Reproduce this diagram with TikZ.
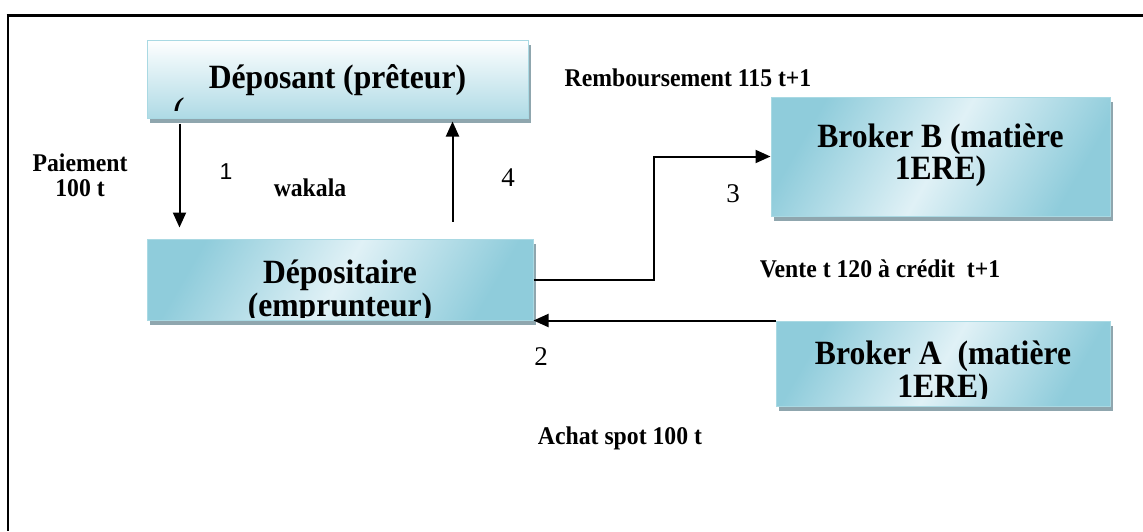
\documentclass[tikz,border=0pt]{standalone}
\usepackage{fontspec}
\setmainfont{Liberation Serif}
\newfontfamily\narrowserif[FakeStretch=0.93]{Liberation Serif}
\newfontfamily\plainsans{Liberation Sans}
\usetikzlibrary{arrows.meta,shadows,calc}

\definecolor{edgeblue}{HTML}{A9D9E3}
\definecolor{deepblue}{HTML}{8FCCDB}
\definecolor{paleblue}{HTML}{E0F1F6}
\definecolor{shadowgray}{HTML}{8FA6AE}

\tikzset{
  card/.style={draw=edgeblue, line width=1pt, inner sep=0pt,
    general shadow={fill=shadowgray, shadow xshift=3pt, shadow yshift=-5pt}},
  vcard/.style={card, top color=white!96!paleblue, bottom color=deepblue!72!white},
  dcard/.style={card, left color=deepblue, right color=deepblue,
    middle color=paleblue, shading angle=60},
  bigtxt/.style={font=\narrowserif\bfseries\fontsize{34}{33}\selectfont, inner sep=0pt, anchor=base},
  lbl/.style={font=\narrowserif\bfseries\fontsize{25.5}{25}\selectfont, align=center, inner sep=0pt},
  stepnum/.style={font=\fontsize{27}{27}\selectfont, inner sep=0pt},
  arr/.style={line width=2pt, -{Triangle[length=15pt,width=13pt]}},
}

\begin{document}
\begin{tikzpicture}[x=1pt,y=1pt]
\useasboundingbox (0,0) rectangle (1143,-531);

% page frame
\draw[line width=3pt] (6.5,-15) -- (1143,-15);
\draw[line width=1.2pt] (8,-15) -- (8,-531);

% boxes; each text is clipped to the inner area of its box
\node[vcard, minimum width=381pt, minimum height=78pt,
  path picture={
    \coordinate (depC) at (path picture bounding box.center);
    \clip ($(depC)+(-190,-31)$) rectangle ($(depC)+(190,39)$);
    \node[bigtxt] (depT) at ($(depC)+(0,-9)$) {Déposant (prêteur)};
    \node[font=\bfseries\itshape\fontsize{27}{27}\selectfont, inner sep=0pt, anchor=base] (depP)
      at ($(depC)+(-160,-37)$) {(};
  }] (dep) at (337.5,-79) {};

\node[dcard, minimum width=386pt, minimum height=81pt,
  path picture={
    \coordinate (dptC) at (path picture bounding box.center);
    \clip ($(dptC)+(-193,-37.5)$) rectangle ($(dptC)+(193,40.5)$);
    \node[bigtxt] (dptT) at ($(dptC)+(0,-3.5)$) {Dépositaire};
    \node[bigtxt] (dptU) at ($(dptC)+(0,-36.5)$) {(emprunteur)};
  }] (dpt) at (340,-279.5) {};

\node[dcard, minimum width=339pt, minimum height=119pt,
  path picture={
    \coordinate (bbC) at (path picture bounding box.center);
    \node[bigtxt] (bbT) at ($(bbC)+(0,9.5)$) {Broker B (matière};
    \node[bigtxt] (bbU) at ($(bbC)+(0,-22.5)$) {1ERE)};
  }] (bb) at (940.5,-156.5) {};

\node[dcard, minimum width=334pt, minimum height=85pt,
  path picture={
    \coordinate (baC) at (path picture bounding box.center);
    \clip ($(baC)+(-167,-34.5)$) rectangle ($(baC)+(167,42.5)$);
    \node[bigtxt] (baT) at ($(baC)+(0,-0.5)$) {Broker A\ \ (matière};
    \node[bigtxt] (baU) at ($(baC)+(0,-33.5)$) {1ERE)};
  }] (ba) at (943,-363.5) {};

% flows
\draw[arr] ($(dep.south west)+(33,-5)$) -- ($(dpt.north west)+(33,11)$);
\draw[arr] ($(dpt.north west)+(306,17)$) -- ($(dep.south west)+(306,-3)$);
\draw[arr] (dpt.east) -- ++(120,0) |- (bb.west);
\draw[arr] (ba.north west) -- (ba.north west -| dpt.east);

% labels
\node[lbl] (pay) at (80,-175) {Paiement\\100 t};
\node[lbl] (wak) at (310,-188) {wakala};
\node[lbl] (remb) at (688,-78) {Remboursement 115 t+1};
\node[lbl] (vente) at (880,-269) {Vente t 120 à crédit\ \ t+1};
\node[lbl] (achat) at (620,-438) {Achat spot 100 t};

\node[font=\plainsans\fontsize{23}{23}\selectfont, inner sep=0pt] (n1) at (226,-172) {1};
\node[stepnum] (n4) at (508,-178) {4};
\node[stepnum] (n3) at (733,-194) {3};
\node[stepnum] (n2) at (541,-357) {2};
\end{tikzpicture}
\end{document}
